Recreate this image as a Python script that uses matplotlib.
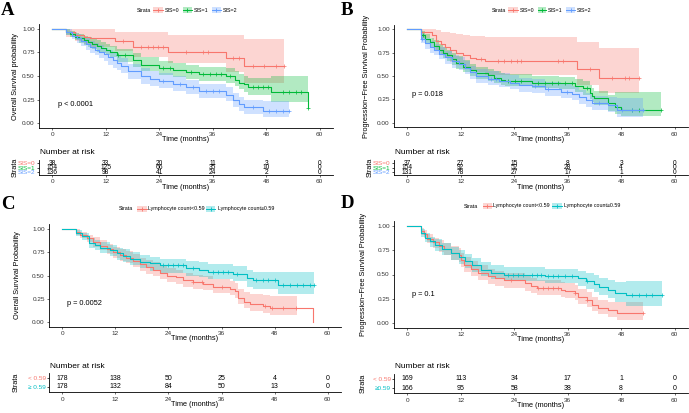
import numpy as np
import matplotlib
matplotlib.use('Agg')
import matplotlib.pyplot as plt
from matplotlib.patches import Rectangle
from matplotlib.lines import Line2D

W, H = 689, 413
plt.rcParams['font.family'] = ['Liberation Sans', 'DejaVu Sans']

RED = '#F8766D'; GREEN = '#00BA38'; BLUE = '#619CFF'; CYAN = '#00BFC4'

# ---------------- Panel A : OS by SIS ----------------
A0_t = [0, 3, 5, 7, 8.5, 14, 18, 26, 39, 43]
A0_s = [1.0, 0.97, 0.94, 0.92, 0.90, 0.87, 0.81, 0.76, 0.69, 0.61]
A0_hi = [1.0, 1.0, 1.0, 1.0, 1.0, 0.97, 0.97, 0.94, 0.94, 0.89]
A0_lo = [1.0, 0.92, 0.87, 0.84, 0.81, 0.77, 0.70, 0.64, 0.54, 0.43]
A0_end = 52
A0_cens = [15.9, 20, 21.5, 22.6, 23.7, 24.9, 30, 33.8, 34.9, 40.5, 42, 45, 47.6, 50.2, 52]

A1_t = [0, 3, 4, 5, 6, 7, 8, 9, 10, 11, 12, 13, 14.5, 18, 20, 24, 27, 30, 33, 39, 41, 42, 43, 44, 49, 57.3]
A1_s = [1.0, 0.97, 0.95, 0.92, 0.90, 0.88, 0.86, 0.84, 0.82, 0.80, 0.78, 0.76, 0.72, 0.67, 0.62, 0.58, 0.56, 0.545, 0.52, 0.50, 0.46, 0.43, 0.41, 0.38, 0.33, 0.16]
A1_hi = [1.0, 1.0, 0.98, 0.96, 0.95, 0.93, 0.91, 0.90, 0.88, 0.86, 0.84, 0.82, 0.79, 0.74, 0.70, 0.66, 0.64, 0.62, 0.60, 0.58, 0.55, 0.52, 0.50, 0.48, 0.50, 0.50]
A1_lo = [1.0, 0.94, 0.91, 0.88, 0.85, 0.83, 0.81, 0.79, 0.76, 0.74, 0.72, 0.70, 0.65, 0.60, 0.55, 0.51, 0.49, 0.47, 0.45, 0.43, 0.39, 0.36, 0.33, 0.30, 0.22, 0.05]
A1_end = 57.3
A1_cens = [14.8, 16.3, 24.9, 26.3, 31.2, 33.8, 35.3, 36.8, 37.9, 39.8, 45, 46.1, 47.2, 48.4, 51.7, 53.2, 54.7, 55.8, 57.3]

A2_t = [0, 3, 4.5, 5.5, 6.5, 7.5, 8.5, 9.5, 10.5, 11.5, 12.5, 13.5, 14.5, 15.5, 17, 20, 22, 24, 27, 30, 33, 39, 40.5, 42, 43, 47.2]
A2_s = [1.0, 0.97, 0.93, 0.90, 0.87, 0.84, 0.81, 0.78, 0.76, 0.73, 0.70, 0.67, 0.64, 0.61, 0.55, 0.50, 0.47, 0.445, 0.42, 0.38, 0.34, 0.30, 0.24, 0.20, 0.17, 0.13]
A2_hi = [1.0, 1.0, 0.97, 0.95, 0.92, 0.90, 0.87, 0.85, 0.83, 0.80, 0.78, 0.75, 0.72, 0.69, 0.63, 0.58, 0.55, 0.53, 0.50, 0.46, 0.42, 0.38, 0.32, 0.28, 0.25, 0.23]
A2_lo = [1.0, 0.94, 0.89, 0.85, 0.82, 0.78, 0.75, 0.72, 0.69, 0.66, 0.62, 0.59, 0.56, 0.53, 0.47, 0.42, 0.39, 0.37, 0.34, 0.31, 0.27, 0.23, 0.17, 0.13, 0.10, 0.06]
A2_end = 53.2
A2_cens = [24.9, 28.6, 31.6, 34.6, 36, 37.5, 45, 48.7, 50.2, 51.7, 53.2]

# ---------------- Panel B : PFS by SIS ----------------
B0_t = [0, 3, 5.5, 6.5, 7.5, 8.5, 9.5, 11, 12.5, 14, 15.5, 17.5, 38, 43]
B0_s = [1.0, 0.97, 0.94, 0.87, 0.84, 0.81, 0.78, 0.75, 0.72, 0.69, 0.68, 0.66, 0.57, 0.48]
B0_hi = [1.0, 1.0, 1.0, 0.99, 0.97, 0.97, 0.96, 0.95, 0.94, 0.93, 0.93, 0.92, 0.86, 0.80]
B0_lo = [1.0, 0.91, 0.86, 0.77, 0.73, 0.69, 0.65, 0.62, 0.58, 0.55, 0.54, 0.51, 0.40, 0.32]
B0_end = 52
B0_cens = [16.6, 20.3, 21.8, 23.3, 24.5, 25.6, 33.9, 35, 41, 45.9, 48.9, 49.7, 52]

B1_t = [0, 3, 4, 5, 6, 7, 8, 9, 10, 11, 12.5, 14, 15.5, 18, 19.5, 21, 22, 28, 34, 37.6, 39.5, 41, 41.5, 42, 45, 46.7, 48]
B1_s = [1.0, 0.94, 0.90, 0.86, 0.82, 0.78, 0.75, 0.72, 0.68, 0.64, 0.60, 0.56, 0.53, 0.51, 0.48, 0.46, 0.45, 0.43, 0.42, 0.39, 0.37, 0.32, 0.29, 0.26, 0.21, 0.17, 0.14]
B1_hi = [1.0, 0.98, 0.95, 0.91, 0.88, 0.84, 0.81, 0.78, 0.75, 0.71, 0.67, 0.63, 0.60, 0.58, 0.55, 0.53, 0.52, 0.50, 0.49, 0.47, 0.45, 0.40, 0.37, 0.34, 0.30, 0.33, 0.33]
B1_lo = [1.0, 0.90, 0.85, 0.81, 0.77, 0.72, 0.69, 0.66, 0.62, 0.58, 0.54, 0.50, 0.47, 0.45, 0.42, 0.40, 0.39, 0.37, 0.36, 0.33, 0.30, 0.25, 0.22, 0.19, 0.13, 0.09, 0.07]
B1_end = 57
B1_cens = [3.4, 22.6, 24.1, 25.6, 29.4, 30.9, 32.4, 33.9, 35.4, 36.9, 40.3, 50.5, 52, 56.9]

B2_t = [0, 3, 4, 5, 6, 7, 8.5, 10, 11.5, 13, 14, 15.5, 18, 20.5, 23, 25, 28, 31, 34.5, 37, 38.5, 40, 41.5, 45, 47]
B2_s = [1.0, 0.90, 0.85, 0.81, 0.78, 0.74, 0.70, 0.66, 0.63, 0.59, 0.54, 0.50, 0.47, 0.45, 0.43, 0.40, 0.39, 0.36, 0.33, 0.31, 0.27, 0.24, 0.21, 0.19, 0.14]
B2_hi = [1.0, 0.95, 0.91, 0.87, 0.84, 0.81, 0.77, 0.73, 0.70, 0.66, 0.61, 0.58, 0.55, 0.53, 0.51, 0.48, 0.47, 0.44, 0.41, 0.39, 0.35, 0.32, 0.29, 0.27, 0.26]
B2_lo = [1.0, 0.85, 0.79, 0.75, 0.72, 0.68, 0.63, 0.59, 0.56, 0.52, 0.47, 0.43, 0.40, 0.38, 0.36, 0.33, 0.32, 0.29, 0.26, 0.24, 0.20, 0.17, 0.14, 0.12, 0.06]
B2_end = 53
B2_cens = [3.2, 18.8, 20, 28.6, 31.6, 35.8, 43, 48.2, 50.5, 53]

# ---------------- Panel C : OS by lymphocyte ----------------
C0_t = [0, 3, 4, 5.5, 7, 8.5, 10, 11.5, 13, 14.5, 16, 17.6, 19, 20.6, 22, 23.6, 25.8, 27.4, 29.6, 31.9, 34, 37.9, 39, 39.8, 41, 42.4, 45.4, 47, 56.7]
C0_s = [1.0, 0.97, 0.94, 0.90, 0.86, 0.82, 0.78, 0.75, 0.72, 0.69, 0.66, 0.62, 0.59, 0.56, 0.53, 0.50, 0.48, 0.45, 0.43, 0.41, 0.38, 0.36, 0.33, 0.26, 0.22, 0.19, 0.17, 0.15, 0.0]
C0_hi = [1.0, 1.0, 0.97, 0.94, 0.91, 0.88, 0.84, 0.81, 0.79, 0.76, 0.73, 0.69, 0.67, 0.64, 0.61, 0.58, 0.56, 0.53, 0.51, 0.49, 0.46, 0.44, 0.42, 0.36, 0.32, 0.30, 0.29, 0.28, 0.28]
C0_lo = [1.0, 0.94, 0.90, 0.86, 0.81, 0.77, 0.73, 0.69, 0.66, 0.63, 0.59, 0.55, 0.52, 0.49, 0.46, 0.43, 0.41, 0.38, 0.36, 0.34, 0.31, 0.29, 0.26, 0.19, 0.15, 0.12, 0.10, 0.08, 0.08]
C0_end = 56.7
C0_band_end = 53
C0_cens = [29.6, 31.5, 36, 45.8, 47.3, 49.9, 52.9]

C1_t = [0, 3, 4.5, 6, 7.5, 8.5, 10.8, 12.3, 13.8, 15.3, 17.6, 19.8, 22, 28, 31, 33, 38.6, 41.7, 43, 48.8]
C1_s = [1.0, 0.96, 0.92, 0.85, 0.83, 0.80, 0.77, 0.74, 0.71, 0.68, 0.65, 0.63, 0.61, 0.58, 0.56, 0.54, 0.52, 0.47, 0.45, 0.40]
C1_hi = [1.0, 0.99, 0.96, 0.90, 0.88, 0.86, 0.83, 0.80, 0.78, 0.75, 0.72, 0.70, 0.68, 0.66, 0.64, 0.62, 0.60, 0.56, 0.54, 0.54]
C1_lo = [1.0, 0.93, 0.88, 0.80, 0.77, 0.74, 0.71, 0.67, 0.64, 0.61, 0.58, 0.55, 0.53, 0.50, 0.48, 0.46, 0.44, 0.38, 0.36, 0.30]
C1_end = 57
C1_cens = [22.8, 24, 25.1, 26.2, 27.4, 29.6, 34.1, 35.3, 36.4, 37.5, 39.4, 43.9, 45.4, 46.6, 48.1, 50, 51.5, 53, 54.5, 56, 57]

# ---------------- Panel D : PFS by lymphocyte ----------------
D0_t = [0, 3, 3.8, 4.5, 5.7, 7.2, 8.3, 9.8, 11.7, 12.1, 12.8, 14.3, 15.8, 18, 19.6, 21.8, 26.3, 27.8, 29, 34.6, 35.3, 37.6, 38.4, 40.3, 41.4, 42.9, 45, 47]
D0_s = [1.0, 0.95, 0.92, 0.87, 0.83, 0.79, 0.76, 0.72, 0.70, 0.65, 0.60, 0.56, 0.52, 0.48, 0.46, 0.44, 0.41, 0.38, 0.36, 0.34, 0.33, 0.31, 0.27, 0.24, 0.19, 0.16, 0.13, 0.10]
D0_hi = [1.0, 0.98, 0.96, 0.92, 0.88, 0.85, 0.82, 0.79, 0.77, 0.72, 0.68, 0.64, 0.60, 0.56, 0.54, 0.52, 0.49, 0.46, 0.44, 0.42, 0.41, 0.39, 0.35, 0.32, 0.27, 0.24, 0.22, 0.22]
D0_lo = [1.0, 0.91, 0.88, 0.82, 0.77, 0.73, 0.70, 0.65, 0.63, 0.58, 0.53, 0.48, 0.44, 0.40, 0.38, 0.36, 0.33, 0.31, 0.29, 0.27, 0.26, 0.24, 0.20, 0.17, 0.12, 0.09, 0.06, 0.03]
D0_end = 53
D0_cens = [23.3, 29.4, 30.5, 31.6, 32.7, 33.9, 37.7, 40.3, 53]

D1_t = [0, 3, 4, 5, 6.2, 7.7, 9.8, 11.7, 13, 14.5, 16.6, 18.8, 21.8, 31, 38.4, 40, 41.8, 43, 45, 46.5, 49]
D1_s = [1.0, 0.93, 0.88, 0.84, 0.80, 0.76, 0.72, 0.68, 0.64, 0.60, 0.55, 0.52, 0.50, 0.48, 0.46, 0.43, 0.40, 0.37, 0.34, 0.31, 0.29]
D1_hi = [1.0, 0.97, 0.93, 0.89, 0.86, 0.82, 0.78, 0.75, 0.71, 0.67, 0.63, 0.60, 0.58, 0.56, 0.54, 0.52, 0.49, 0.46, 0.44, 0.42, 0.43]
D1_lo = [1.0, 0.89, 0.83, 0.78, 0.74, 0.70, 0.65, 0.61, 0.57, 0.53, 0.48, 0.45, 0.43, 0.41, 0.38, 0.35, 0.32, 0.29, 0.26, 0.22, 0.18]
D1_end = 57.2
D1_cens = [22.6, 23.7, 24.8, 26, 27.9, 29, 30.1, 31.6, 32.8, 33.9, 35.4, 36.9, 40.3, 50.5, 52, 53.5, 55, 57.2]

# ---------------- Risk tables ----------------
risk_times = [0, 12, 24, 36, 48, 60]
A_risk = [[38, 33, 20, 11, 3, 0], [154, 125, 66, 35, 10, 0], [136, 98, 41, 24, 2, 0]]
B_risk = [[37, 27, 15, 8, 3, 0], [154, 92, 52, 28, 4, 0], [131, 78, 27, 17, 1, 0]]
C_risk = [[178, 138, 50, 25, 4, 0], [178, 132, 84, 50, 13, 0]]
D_risk = [[169, 113, 34, 17, 1, 0], [166, 95, 58, 38, 8, 0]]
SIS_labels = ['SIS=0', 'SIS=1', 'SIS=2']
C_tab_labels = ['< 0.59', '\u2265 0.59']
D_tab_labels = ['< 0.59', '\u22650.59']
lym_leg = ['Lymphocyte count<0.59', 'Lymphocyte count\u22650.59']

fig = plt.figure(figsize=(W / 100, H / 100), dpi=100)


def add_ax(l, t, r, b):
    return fig.add_axes([l / W, 1 - b / H, (r - l) / W, (b - t) / H])


def step_val(t, s, x):
    idx = np.searchsorted(np.array(t), x, side='right') - 1
    return s[max(idx, 0)]


def draw_band(ax, t, lo, hi, bend, color):
    bt = [x for x in t if x < bend]
    n = len(bt)
    bt2 = bt + [bend]
    lo2 = list(lo[:n]) + [lo[n - 1]]
    hi2 = list(hi[:n]) + [hi[n - 1]]
    ax.fill_between(bt2, lo2, hi2, step='post', color=color, alpha=0.3, lw=0)


def draw_line(ax, t, s, end, cens, color):
    t2 = list(t) + [end]
    s2 = list(s) + [s[-1]]
    ax.step(t2, s2, where='post', color=color, lw=0.8)
    cy = [step_val(t, s, c) for c in cens]
    ax.plot(cens, cy, '+', color=color, ms=3, mew=0.5)


TICK_FS = 4.6
LAB_FS = 5.3


def style_main(ax, box, ylabel, ylab_right_px, xlab_top_px):
    l, t, r, b = box
    ax.set_xlim(-3, 63)
    ax.set_ylim(-0.05, 1.05)
    ax.set_xticks(risk_times)
    ax.set_yticks([0, 0.25, 0.5, 0.75, 1.0])
    ax.set_yticklabels(['0.00', '0.25', '0.50', '0.75', '1.00'])
    for sp in ['top', 'right']:
        ax.spines[sp].set_visible(False)
    for sp in ['left', 'bottom']:
        ax.spines[sp].set_linewidth(0.6)
    ax.tick_params(labelsize=TICK_FS, length=1.5, width=0.5, pad=1.5, colors='#333333')
    ax.set_xlabel('Time (months)', fontsize=LAB_FS)
    ax.set_ylabel(ylabel, fontsize=LAB_FS)
    ax.yaxis.set_label_coords((ylab_right_px - l) / (r - l), 0.5)
    ax.xaxis.set_label_coords(0.5, (b - xlab_top_px) / (b - t))


def draw_table(box, rows, labels, colors, title_y, strata_x, xlab_top_px, num_fs):
    l, t, r, b = box
    ax = add_ax(*box)
    n = len(rows)
    ax.set_xlim(-3, 63)
    ax.set_ylim(0.4, n + 0.6)
    for i, row in enumerate(rows):
        y = n - i
        for x, v in zip(risk_times, row):
            ax.text(x, y, str(v), ha='center', va='center', fontsize=num_fs)
    ax.set_yticks([n - i for i in range(n)])
    ax.set_yticklabels(labels)
    for lab, c in zip(ax.get_yticklabels(), colors):
        lab.set_color(c)
    ax.set_xticks(risk_times)
    for sp in ['top', 'right']:
        ax.spines[sp].set_visible(False)
    for sp in ['left', 'bottom']:
        ax.spines[sp].set_linewidth(0.6)
    ax.tick_params(axis='x', labelsize=TICK_FS, length=1.5, width=0.5, pad=1.5, colors='#333333')
    ax.tick_params(axis='y', labelsize=TICK_FS, length=1.5, width=0.5, pad=1)
    ax.set_xlabel('Time (months)', fontsize=LAB_FS)
    ax.xaxis.set_label_coords(0.5, (b - xlab_top_px) / (b - t))
    fig.text((l + 1) / W, 1 - title_y / H, 'Number at risk', fontsize=6, ha='left', va='center')
    fig.text(strata_x / W, 1 - ((t + b) / 2) / H, 'Strata', rotation=90, fontsize=LAB_FS,
             ha='center', va='center')
    return ax


def legend(y, strata_x, keys, fs=3.8):
    fig.text(strata_x / W, 1 - y / H, 'Strata', fontsize=fs, ha='left', va='center')
    for (kx0, kx1, tx, label, color) in keys:
        rect = Rectangle((kx0 / W, 1 - (y + 3) / H), (kx1 - kx0) / W, 6 / H,
                         transform=fig.transFigure, facecolor=color, alpha=0.3, lw=0)
        fig.add_artist(rect)
        ln = Line2D([kx0 / W, kx1 / W], [1 - y / H, 1 - y / H], transform=fig.transFigure,
                    color=color, lw=0.7)
        fig.add_artist(ln)
        mk = Line2D([(kx0 + kx1) / 2 / W], [1 - y / H], transform=fig.transFigure,
                    color=color, marker='+', ms=3, mew=0.6, lw=0)
        fig.add_artist(mk)
        fig.text(tx / W, 1 - y / H, label, fontsize=fs, ha='left', va='center')


def panel_letter(x, y, s):
    fig.text(x / W, 1 - y / H, s, fontsize=13.5, fontweight='bold', family='Liberation Serif',
             ha='left', va='top')


# ---------- Panel A ----------
boxA = (39, 24.3, 333, 127.7)
axA = add_ax(*boxA)
draw_band(axA, A0_t, A0_lo, A0_hi, A0_end, RED)
draw_band(axA, A1_t, A1_lo, A1_hi, A1_end, GREEN)
draw_band(axA, A2_t, A2_lo, A2_hi, A2_end, BLUE)
draw_line(axA, A0_t, A0_s, A0_end, A0_cens, RED)
draw_line(axA, A1_t, A1_s, A1_end, A1_cens, GREEN)
draw_line(axA, A2_t, A2_s, A2_end, A2_cens, BLUE)
axA.text(1.3, 0.2, 'p < 0.0001', fontsize=LAB_FS, ha='left', va='center')
style_main(axA, boxA, 'Overall Survival probability', 19, 136)
draw_table((39, 160.3, 333, 174.7), A_risk, SIS_labels, [RED, GREEN, BLUE], 153, 15, 184, 4.8)
legend(10, 137, [(153, 163, 165, 'SIS=0', RED), (183, 192, 194, 'SIS=1', GREEN),
                 (212, 221, 223, 'SIS=2', BLUE)])
panel_letter(1, 2, 'A')

# ---------- Panel B ----------
boxB = (394, 24.6, 688, 127.4)
axB = add_ax(*boxB)
draw_band(axB, B0_t, B0_lo, B0_hi, B0_end, RED)
draw_band(axB, B1_t, B1_lo, B1_hi, B1_end, GREEN)
draw_band(axB, B2_t, B2_lo, B2_hi, B2_end, BLUE)
draw_line(axB, B0_t, B0_s, B0_end, B0_cens, RED)
draw_line(axB, B1_t, B1_s, B1_end, B1_cens, GREEN)
draw_line(axB, B2_t, B2_s, B2_end, B2_cens, BLUE)
axB.text(1.1, 0.3, 'p = 0.018', fontsize=LAB_FS, ha='left', va='center')
style_main(axB, boxB, 'Progression\u2212Free Survival Probability', 370, 136)
draw_table((394, 160.3, 688, 174.7), B_risk, SIS_labels, [RED, GREEN, BLUE], 153, 370, 184, 4.8)
legend(10, 492, [(508, 518, 520, 'SIS=0', RED), (538, 546, 548, 'SIS=1', GREEN),
                 (566, 575, 577, 'SIS=2', BLUE)])
panel_letter(341, 2, 'B')

# ---------- Panel C ----------
boxC = (49, 224.4, 341, 326.6)
axC = add_ax(*boxC)
draw_band(axC, C0_t, C0_lo, C0_hi, C0_band_end, RED)
draw_band(axC, C1_t, C1_lo, C1_hi, C1_end, CYAN)
draw_line(axC, C0_t, C0_s, C0_end, C0_cens, RED)
draw_line(axC, C1_t, C1_s, C1_end, C1_cens, CYAN)
axC.text(1.1, 0.2, 'p = 0.0052', fontsize=LAB_FS, ha='left', va='center')
style_main(axC, boxC, 'Overall Survival Probability', 21, 335)
draw_table((49, 372.6, 341, 392.4), C_risk, C_tab_labels, [RED, CYAN], 366, 16, 401, 5)
legend(209, 119, [(137, 147, 148, lym_leg[0], RED), (206, 215, 218, lym_leg[1], CYAN)])
panel_letter(1, 196, 'C')

# ---------- Panel D ----------
boxD = (394, 221, 688, 328)
axD = add_ax(*boxD)
draw_band(axD, D0_t, D0_lo, D0_hi, D0_end, RED)
draw_band(axD, D1_t, D1_lo, D1_hi, D1_end, CYAN)
draw_line(axD, D0_t, D0_s, D0_end, D0_cens, RED)
draw_line(axD, D1_t, D1_s, D1_end, D1_cens, CYAN)
axD.text(1.1, 0.29, 'p = 0.1', fontsize=LAB_FS, ha='left', va='center')
style_main(axD, boxD, 'Progression\u2212Free Survival Probability', 367, 336)
draw_table((394, 373.6, 688, 393.4), D_risk, D_tab_labels, [RED, CYAN], 366, 363, 402, 5)
legend(206, 464, [(483, 492, 493, lym_leg[0], RED), (552, 562, 564, lym_leg[1], CYAN)])
panel_letter(341, 195, 'D')

fig.savefig('out.png', dpi=100)
